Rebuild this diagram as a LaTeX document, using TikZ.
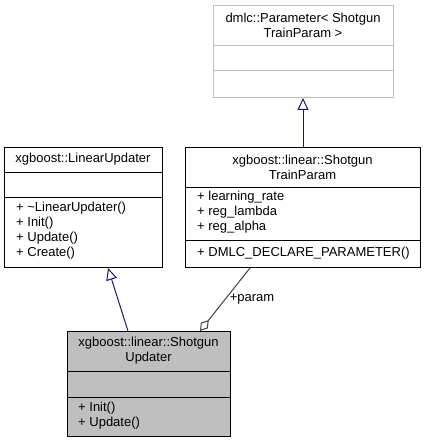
\documentclass[tikz,border=0pt]{standalone}
\usepackage{fontspec}
\setmainfont{Liberation Sans}
\usetikzlibrary{arrows.meta,positioning,calc}
\definecolor{inhblue}{RGB}{25,25,112}
\definecolor{aggrey}{RGB}{64,64,64}
\definecolor{tplgrey}{RGB}{191,191,191}
\definecolor{curgrey}{RGB}{191,191,191}
\newcommand{\umlfont}{\fontsize{13}{15}\selectfont}
\tikzset{
  classbox/.style={draw=black,fill=white,line width=1pt,inner sep=0pt,anchor=north west},
  tplbox/.style={classbox,draw=tplgrey},
  curbox/.style={classbox,fill=curgrey},
  ctitle/.style={align=center,inner sep=0pt,font=\umlfont},
  cmember/.style={align=left,anchor=west,inner sep=0pt,font=\umlfont},
  sep/.style={draw=black,line width=1pt},
  inherit/.style={-{Triangle[open,length=12pt,width=11pt]},draw=inhblue,line width=1pt},
  aggr/.style={{Diamond[open,length=14pt,width=9pt]}-,draw=aggrey,line width=1pt},
}

\begin{document}
\begin{tikzpicture}[x=1pt,y=-1pt]
  \useasboundingbox (0,0) rectangle (426,443);
  % template base
  \node[tplbox,minimum width=180pt,minimum height=92pt] (tpl) at (213,5) {};
  \draw[sep,draw=tplgrey] (tpl.west |- 0,46) -- (tpl.east |- 0,46);
  \draw[sep,draw=tplgrey] (tpl.west |- 0,71) -- (tpl.east |- 0,71);
  \node[ctitle] (tpltitle) at (303,25) {dmlc::Parameter< Shotgun\\TrainParam >};
  % abstract updater
  \node[classbox,minimum width=158pt,minimum height=120pt] (linupd) at (4,147) {};
  \draw[sep] (linupd.west |- 0,173) -- (linupd.east |- 0,173);
  \draw[sep] (linupd.west |- 0,198) -- (linupd.east |- 0,198);
  \node[ctitle] (linupdtitle) at (83,159) {xgboost::LinearUpdater};
  \node[cmember] (linupdops) at ($(linupd.west |- 0,231)+(12,0)$)
    {+ \textasciitilde LinearUpdater()\\+ Init()\\+ Update()\\+ Create()};
  % parameter struct
  \node[classbox,minimum width=235pt,minimum height=120pt] (trainparam) at (185,147) {};
  \draw[sep] (trainparam.west |- 0,188) -- (trainparam.east |- 0,188);
  \draw[sep] (trainparam.west |- 0,240) -- (trainparam.east |- 0,240);
  \node[ctitle] (trainparamtitle) at (302.5,167) {xgboost::linear::Shotgun\\TrainParam};
  \node[cmember] (trainparamattr) at ($(trainparam.west |- 0,212.5)+(12,0)$)
    {+ learning\_rate\\+ reg\_lambda\\+ reg\_alpha};
  \node[cmember] (trainparamops) at ($(trainparam.west |- 0,253)+(12,0)$)
    {+ DMLC\_DECLARE\_PARAMETER()};
  % current class
  \node[curbox,minimum width=163pt,minimum height=105pt] (shotupd) at (67,331) {};
  \draw[sep] (shotupd.west |- 0,371) -- (shotupd.east |- 0,371);
  \draw[sep] (shotupd.west |- 0,397) -- (shotupd.east |- 0,397);
  \node[ctitle] (shotupdtitle) at (148.5,350.5) {xgboost::linear::Shotgun\\Updater};
  \node[cmember] (shotupdops) at ($(shotupd.west |- 0,415.5)+(11,0)$)
    {+ Init()\\+ Update()};
  % relations
  \draw[inherit] (trainparam.north) -- (trainparam.north |- tpl.south);
  \draw[inherit] ($(shotupd.north west)+(61,0)$) -- ($(linupd.south west)+(104,0)$);
  \draw[aggr] ($(shotupd.north west)+(133,0)$) -- ($(trainparam.south west)+(65,0)$);
  \node[font=\umlfont,inner sep=0pt] (paramlbl) at (252,299) {+param};
\end{tikzpicture}
\end{document}
